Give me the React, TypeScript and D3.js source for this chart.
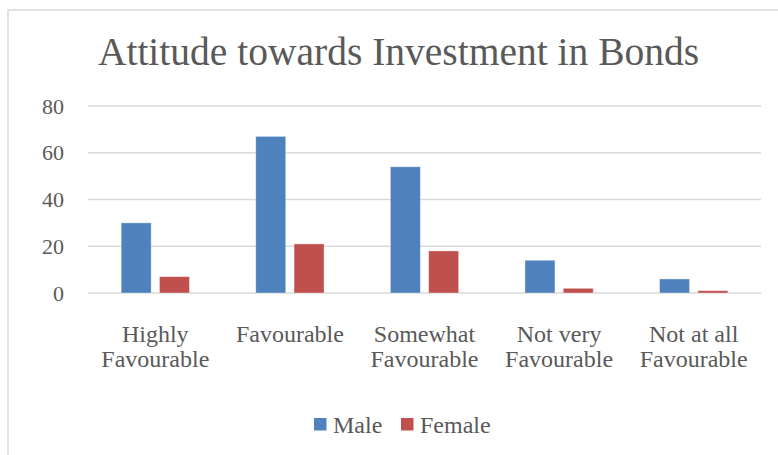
import React from "react";
import * as d3 from "d3";

const categories: string[][] = [
  ["Highly", "Favourable"],
  ["Favourable"],
  ["Somewhat", "Favourable"],
  ["Not very", "Favourable"],
  ["Not at all", "Favourable"],
];
const seriesNames = ["Male", "Female"];
const maleValues = [30, 67, 54, 14, 6];
const femaleValues = [7, 21, 18, 2, 1];
const yTicks = [0, 20, 40, 60, 80];
const colors = ["#4F81BD", "#C0504D"];
const title = "Attitude towards Investment in Bonds";

const W = 778;
const H = 455;
const FONT = "'Liberation Serif', 'Times New Roman', serif";
const TEXT = "#595959";

export default function App() {
  const left = 88;
  const right = 761;
  const top = 106;
  const bottom = 293;
  const catKeys = categories.map((c, i) => String(i));
  const x0 = d3.scaleBand<string>().domain(catKeys).range([left, right]).paddingInner(0).paddingOuter(0);
  const x1 = d3
    .scaleBand<string>()
    .domain(seriesNames)
    .range([0, x0.bandwidth()])
    .paddingInner(0.217)
    .paddingOuter(0.866);
  const y = d3.scaleLinear().domain([0, 80]).range([bottom, top]);
  const data = [maleValues, femaleValues];

  return (
    <svg
      width={W}
      height={H}
      style={{ position: "absolute", left: 0, top: 0, display: "block", background: "#fff" }}
      fontFamily={FONT}
    >
      <rect x={8} y={10} width={W + 20} height={H + 20} fill="#fff" stroke="#D9D9D9" strokeWidth={1.5} />
      <text x={398.5} y={65} textAnchor="middle" fontSize={39.5} fill={TEXT}>
        {title}
      </text>
      {yTicks.map((t) => (
        <g key={t}>
          <line x1={left} x2={right} y1={y(t)} y2={y(t)} stroke="#D9D9D9" strokeWidth={1.3} />
          <text x={64} y={y(t) + 7.5} textAnchor="end" fontSize={22} fill={TEXT}>
            {t}
          </text>
        </g>
      ))}
      {data.map((vals, si) =>
        vals.map((v, ci) => (
          <rect
            key={`${si}-${ci}`}
            x={(x0(String(ci)) as number) + (x1(seriesNames[si]) as number)}
            y={y(v)}
            width={x1.bandwidth()}
            height={bottom - y(v)}
            fill={colors[si]}
            stroke="#ffffff"
            strokeOpacity={0.45}
            strokeWidth={0.8}
          />
        ))
      )}
      {categories.map((lines, ci) => (
        <text
          key={ci}
          x={(x0(String(ci)) as number) + x0.bandwidth() / 2}
          textAnchor="middle"
          fontSize={24}
          fill={TEXT}
        >
          {lines.map((l, li) => (
            <tspan key={li} x={(x0(String(ci)) as number) + x0.bandwidth() / 2} y={341.7 + li * 25}>
              {l}
            </tspan>
          ))}
        </text>
      ))}
      <g>
        <rect x={314} y={418} width={12.5} height={12.5} fill={colors[0]} />
        <text x={333} y={432.5} fontSize={24} fill={TEXT}>
          {seriesNames[0]}
        </text>
        <rect x={401} y={418} width={12.5} height={12.5} fill={colors[1]} />
        <text x={420} y={432.5} fontSize={24} fill={TEXT}>
          {seriesNames[1]}
        </text>
      </g>
    </svg>
  );
}
